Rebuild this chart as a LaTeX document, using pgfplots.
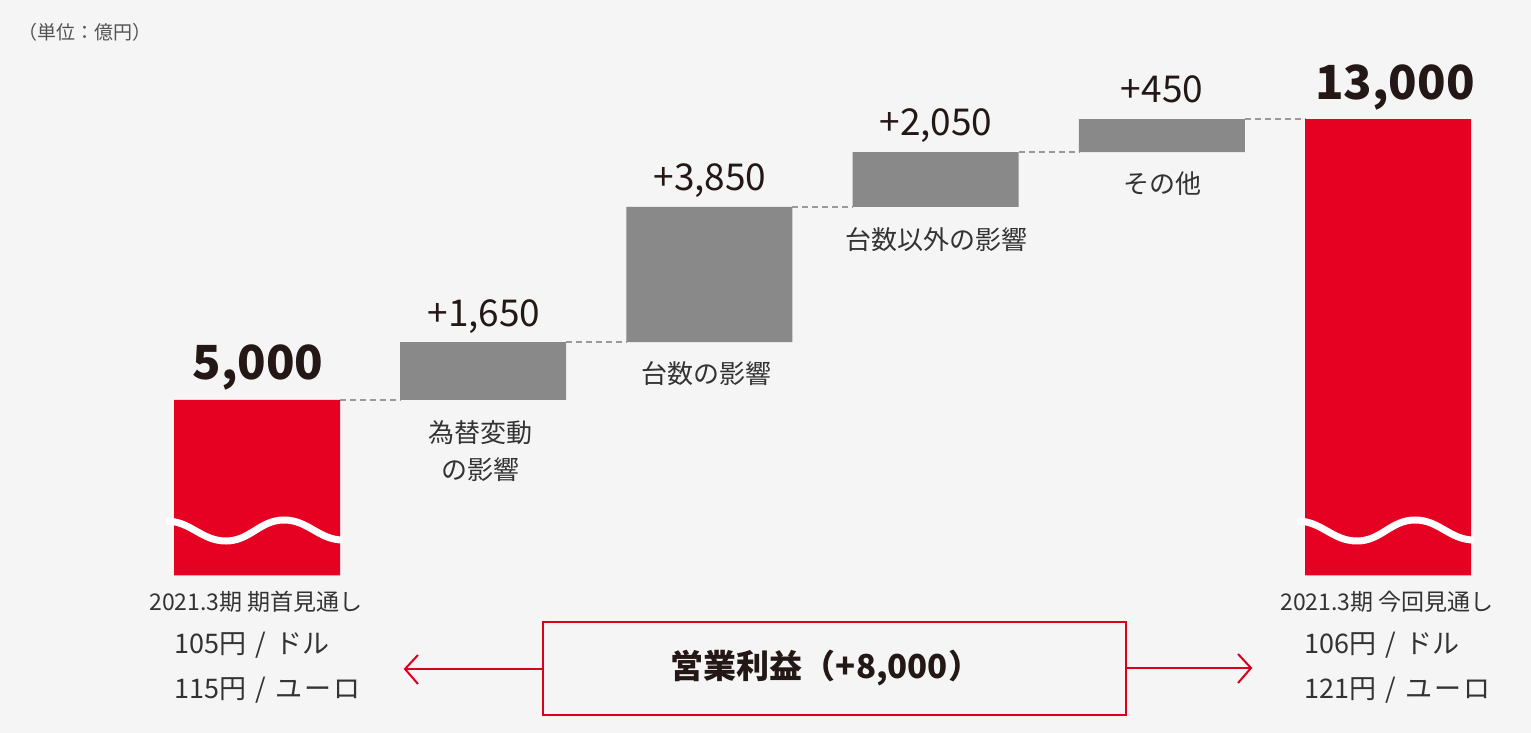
\documentclass[border=0pt]{standalone}
\usepackage{pgfplots}
\pgfplotsset{compat=1.18}
\usepackage{pgfplotstable}
\usepackage{fontspec}
\setmainfont{Noto Sans CJK JP}
\definecolor{bg}{HTML}{F5F5F5}
\definecolor{wred}{HTML}{E60021}
\definecolor{wgray}{HTML}{898989}
\definecolor{dashcol}{HTML}{9A9A9A}
\definecolor{txt}{HTML}{231815}
\definecolor{lab}{HTML}{333333}
\definecolor{boxred}{HTML}{D9001E}

% bar geometry as drawn in the reference (last two steps are not to scale there)
\pgfplotstableread{
x base delta total
0 0 0 5000
1 5000 1650 0
2 6650 3850 0
3 10500 1560 0
4 12060 940 0
5 0 0 13000
}\wf

\newcommand{\fs}[1]{\fontsize{#1}{#1}\selectfont}

\begin{document}
\begin{tikzpicture}
\useasboundingbox (0,0) rectangle (1531pt,733pt);
\fill[bg] (0,0) rectangle (1531pt,733pt);
\begin{axis}[
  at={(0,0)}, anchor=south west,
  width=1531pt, height=733pt, scale only axis,
  hide axis,
  xmin=-1.1362, xmax=5.6322,
  ymin=-4487, ymax=16396,
  ybar stacked, bar width=0.7339,
]
\addplot[draw=none, fill=none] table[x=x, y=base] {\wf};
\addplot[draw=none, fill=wgray] table[x=x, y=delta] {\wf};
\addplot[draw=none, fill=wred] table[x=x, y=total] {\wf};
\addplot[sharp plot, stack plots=false, color=dashcol, line width=1.8pt, dash pattern=on 6pt off 4pt] coordinates {(0.367,5000) (0.633,5000)};
\addplot[sharp plot, stack plots=false, color=dashcol, line width=1.8pt, dash pattern=on 6pt off 4pt] coordinates {(1.367,6650) (1.633,6650)};
\addplot[sharp plot, stack plots=false, color=dashcol, line width=1.8pt, dash pattern=on 6pt off 4pt] coordinates {(2.367,10500) (2.633,10500)};
\addplot[sharp plot, stack plots=false, color=dashcol, line width=1.8pt, dash pattern=on 6pt off 4pt] coordinates {(3.367,12060) (3.633,12060)};
\addplot[sharp plot, stack plots=false, color=dashcol, line width=1.8pt, dash pattern=on 6pt off 4pt] coordinates {(4.367,13000) (4.633,13000)};
\end{axis}
\begin{scope}[x=1pt, y=-1pt, yshift=733pt]
  % wavy break marks
  \draw[white, line width=7pt] (166,521) to[out=0,in=180] (226,541) to[out=0,in=180] (284,520) to[out=0,in=180] (343,540);
  \draw[white, line width=7pt] (1297,521) to[out=0,in=180] (1357,541) to[out=0,in=180] (1415,520) to[out=0,in=180] (1474,540);
  % title
  \node[anchor=west, inner sep=0, text=lab!85!white] at (18,32) {\fs{19pt}（単位：億円）};
  % totals
  \node[anchor=base, inner sep=0, text=txt, font=\bfseries] at (258,380) {\fs{47pt}5,000};
  \node[anchor=base, inner sep=0, text=txt, font=\bfseries] at (1395,100) {\fs{47pt}13,000};
  % deltas
  \node[anchor=base, inner sep=0, text=txt] at (484,327) {\fs{37pt}+1,650};
  \node[anchor=base, inner sep=0, text=txt] at (710,191) {\fs{37pt}+3,850};
  \node[anchor=base, inner sep=0, text=txt] at (936,136) {\fs{37pt}+2,050};
  \node[anchor=base, inner sep=0, text=txt] at (1162,103) {\fs{37pt}+450};
  % category labels
  \node[inner sep=0, text=lab] at (480,433) {\fs{26pt}為替変動};
  \node[inner sep=0, text=lab] at (480,470) {\fs{26pt}の影響};
  \node[inner sep=0, text=lab] at (706,374) {\fs{26pt}台数の影響};
  \node[inner sep=0, text=lab] at (936,240) {\fs{26pt}台数以外の影響};
  \node[inner sep=0, text=lab] at (1162,184) {\fs{26pt}その他};
  % bottom annotations
  \node[inner sep=0, text=lab] at (256,602) {\fs{23pt}2021.3期 期首見通し};
  \node[anchor=west, inner sep=0, text=lab] at (174,645) {\fs{27pt}105円\hspace{0.35em}/\hspace{0.35em}ドル};
  \node[anchor=west, inner sep=0, text=lab] at (174,690) {\fs{27pt}115円\hspace{0.35em}/\hspace{0.35em}ユ\hspace{0.08em}ー\hspace{0.08em}ロ};
  \node[inner sep=0, text=lab] at (1387,602) {\fs{23pt}2021.3期 今回見通し};
  \node[anchor=west, inner sep=0, text=lab] at (1304,645) {\fs{27pt}106円\hspace{0.35em}/\hspace{0.35em}ドル};
  \node[anchor=west, inner sep=0, text=lab] at (1304,690) {\fs{27pt}121円\hspace{0.35em}/\hspace{0.35em}ユ\hspace{0.08em}ー\hspace{0.08em}ロ};
  % box and arrows
  \draw[boxred, line width=2.5pt] (543,622) rectangle (1126,715);
  \node[inner sep=0, text=txt, font=\bfseries] at (826,668) {\fs{33pt}営業利益（+8,000）};
  \draw[boxred, line width=2pt] (543,669) -- (406,669);
  \draw[boxred, line width=2pt] (418,655) -- (405,669) -- (418,684);
  \draw[boxred, line width=2pt] (1126,668) -- (1251,668);
  \draw[boxred, line width=2pt] (1238,654) -- (1251,668) -- (1238,683);
\end{scope}
\end{tikzpicture}
\end{document}
